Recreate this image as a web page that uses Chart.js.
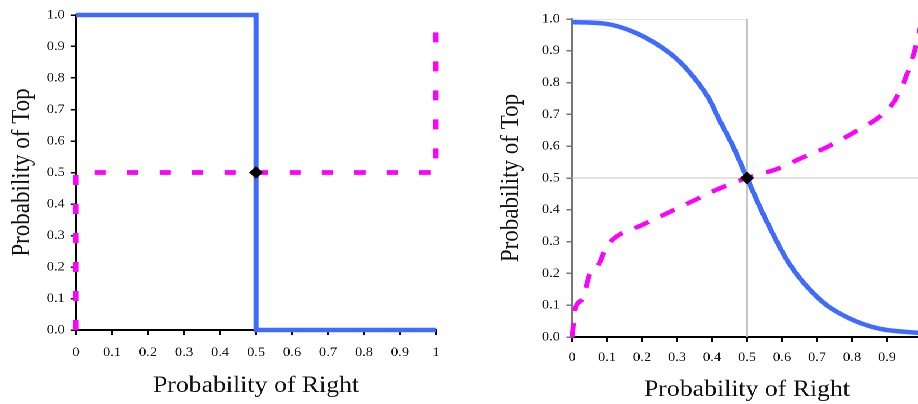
<!DOCTYPE html>
<html>
<head>
<meta charset="utf-8">
<script src="https://cdn.jsdelivr.net/npm/chart.js@4.4.1/dist/chart.umd.min.js"></script>
<style>
  html, body { margin: 0; padding: 0; background: #fff; overflow: hidden; }
  body { width: 918px; height: 404px; position: relative; }
  /* the figure is set slightly wide, so both panels are stretched a bit horizontally */
  #wrap { position: absolute; left: 0; top: 0; width: 830px; height: 404px; transform: scaleX(1.12); transform-origin: 0 0; }
  #left { position: absolute; left: 0; top: 0; }
  #right { position: absolute; left: 410px; top: 0; }
</style>
</head>
<body>
<div id="wrap">
  <canvas id="left" width="400" height="404"></canvas>
  <canvas id="right" width="420" height="404"></canvas>
</div>
<script>
// pure strategies: best responses are step functions
const leftBlueX = [0, 0.5, 0.5, 1];
const leftBlueY = [1, 1, 0, 0];
const leftPinkX = [0, 0, 1, 1];
const leftPinkY = [0, 0.5, 0.5, 1];

// smoothed (logit) responses
const rightBlueX = [0, 0.09, 0.185, 0.28, 0.33, 0.39, 0.42, 0.46, 0.5, 0.55, 0.62, 0.71, 0.79, 0.875, 1];
const rightBlueY = [0.99, 0.986, 0.955, 0.892, 0.84, 0.752, 0.685, 0.6, 0.5, 0.378, 0.232, 0.116, 0.06, 0.027, 0.012];
const rightPinkX = [0, 0.01, 0.03, 0.05, 0.07, 0.1, 0.12, 0.2, 0.25, 0.35, 0.4, 0.5, 0.59, 0.65, 0.73, 0.81, 0.885, 0.92, 0.955, 0.985, 1];
const rightPinkY = [0, 0.09, 0.12, 0.195, 0.215, 0.285, 0.31, 0.352, 0.378, 0.43, 0.457, 0.5, 0.53, 0.56, 0.598, 0.646, 0.698, 0.74, 0.82, 0.925, 1];

// thin guide lines on the right panel
const boxX = [0, 0.5, 0.5];
const boxY = [1, 1, 0];
const midX = [0, 1];
const midY = [0.5, 0.5];

// equilibrium point
const eqX = [0.5];
const eqY = [0.5];

const serif = "'Liberation Serif', 'Times New Roman', serif";
const blue = '#3F6CFF';
const pink = '#FF00FF';

function pts(xs, ys) {
  return xs.map((x, i) => ({ x: x, y: ys[i] }));
}

function near(a, b) { return Math.abs(a - b) < 1e-9; }

function axes(o) {
  return {
    x: {
      type: 'linear', min: 0, max: 1,
      afterFit: s => { s.height = o.xh; s.paddingLeft = 0; s.paddingRight = 0; },
      border: { color: o.xLine, width: 2 },
      grid: { drawOnChartArea: false, drawTicks: true, tickLength: 5, color: o.xLine, lineWidth: 1.5 },
      ticks: {
        stepSize: 0.1, autoSkip: false, maxRotation: 0, padding: o.xPad, color: '#111',
        font: { family: serif, size: 13 },
        callback: v => (near(v, 0) || near(v, 1)) ? String(Math.round(v)) : v.toFixed(1)
      },
      title: { display: true, text: 'Probability of Right', color: '#111',
        font: { family: serif, size: 23 }, padding: { top: 0, bottom: o.xTitlePad } }
    },
    y: {
      type: 'linear', min: 0, max: 1,
      afterFit: s => { s.width = o.yw; },
      border: { color: o.yLine, width: 2 },
      grid: { drawOnChartArea: false, drawTicks: true, tickLength: 5, color: o.yLine, lineWidth: 1.5 },
      ticks: {
        stepSize: 0.1, autoSkip: false, padding: o.yPad, color: '#111',
        font: { family: serif, size: 13 },
        callback: v => v.toFixed(1)
      },
      title: { display: true, text: 'Probability of Top', color: '#111',
        font: { family: serif, size: 23 }, padding: { top: o.yTitlePad, bottom: 0 } }
    }
  };
}

const common = {
  responsive: false,
  animation: false,
  devicePixelRatio: 2,
  plugins: { legend: { display: false }, tooltip: { enabled: false } }
};

function diamond(xs, ys) {
  return {
    data: pts(xs, ys), showLine: false, clip: false,
    pointStyle: 'rectRot', pointRadius: 5.5, pointBackgroundColor: '#000', pointBorderColor: '#000', pointBorderWidth: 1
  };
}

new Chart(document.getElementById('left'), {
  type: 'scatter',
  data: {
    datasets: [
      diamond(eqX, eqY),
      { data: pts(leftPinkX, leftPinkY), showLine: true, clip: false, pointRadius: 0,
        borderColor: pink, borderWidth: 4.8, borderDash: [10, 19], borderCapStyle: 'butt' },
      { data: pts(leftBlueX, leftBlueY), showLine: true, clip: false, pointRadius: 0,
        borderColor: blue, borderWidth: 4.5, borderJoinStyle: 'miter' }
    ]
  },
  options: Object.assign({}, common, {
    layout: { padding: { top: 15, right: 10.7, left: 0, bottom: 0 } },
    scales: axes({ xh: 74, yw: 67.9, xLine: '#000', yLine: '#000', xPad: 10, yPad: 5, xTitlePad: 4, yTitlePad: 6 })
  })
});

new Chart(document.getElementById('right'), {
  type: 'scatter',
  data: {
    datasets: [
      diamond(eqX, eqY),
      { data: pts(rightBlueX, rightBlueY), showLine: true, clip: false, pointRadius: 0,
        borderColor: blue, borderWidth: 4.5, cubicInterpolationMode: 'monotone' },
      { data: pts(rightPinkX, rightPinkY), showLine: true, clip: false, pointRadius: 0,
        borderColor: pink, borderWidth: 4.3, borderDash: [14, 12], borderCapStyle: 'butt', cubicInterpolationMode: 'monotone' },
      { data: pts(boxX, boxY), showLine: true, pointRadius: 0, borderColor: '#c4c4c4', borderWidth: 1 },
      { data: pts(midX, midY), showLine: true, pointRadius: 0, borderColor: '#c4c4c4', borderWidth: 1 }
    ]
  },
  options: Object.assign({}, common, {
    layout: { padding: { top: 19, right: 6.8, left: 0, bottom: 0 } },
    scales: axes({ xh: 67, yw: 100.7, xLine: '#000', yLine: '#777', xPad: 8, yPad: 5.7, xTitlePad: 0, yTitlePad: 32.5 })
  })
});
</script>
</body>
</html>
